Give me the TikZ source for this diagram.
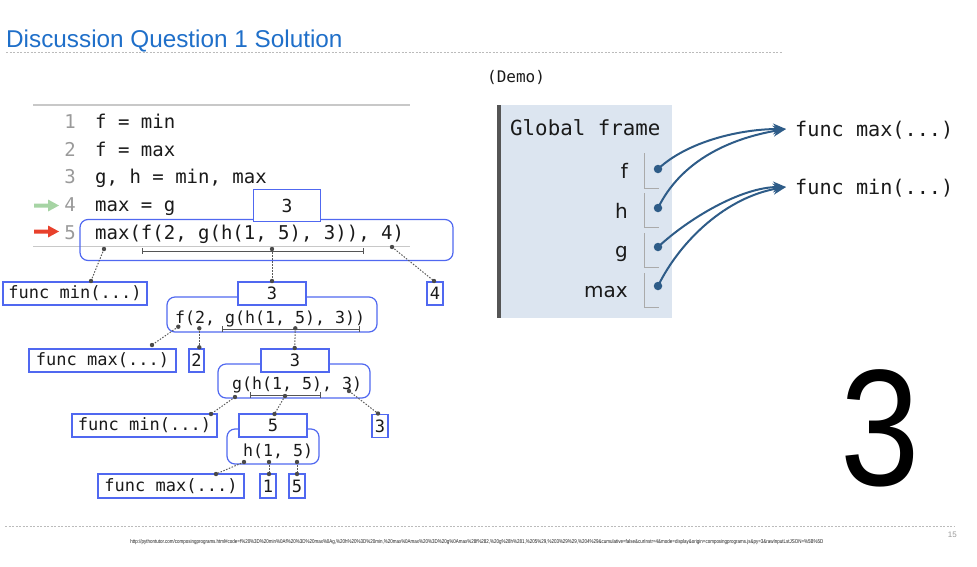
\documentclass[tikz,border=0pt]{standalone}
\usepackage{fontspec}
\usepackage{graphicx}
\usetikzlibrary{arrows.meta}
\newfontfamily\codefont{DejaVu Sans Mono}
\newfontfamily\varfont{DejaVu Sans}
\newfontfamily\titlefont{Liberation Sans}
\newcommand\fs[1]{\fontsize{#1}{#1}\selectfont}
\definecolor{titleblue}{HTML}{1F6FC9}
\definecolor{boxblue}{HTML}{5068F0}
\definecolor{ink}{HTML}{1A1A1A}
\definecolor{numgray}{HTML}{9A9A9A}
\definecolor{panelgray}{HTML}{C8C8C8}
\definecolor{rulegray}{HTML}{BBBBBB}
\definecolor{linkgray}{HTML}{5A5A5A}
\definecolor{dotgray}{HTML}{4A4A4A}
\definecolor{framebg}{HTML}{DCE5F0}
\definecolor{barcol}{HTML}{555555}
\definecolor{cellgray}{HTML}{AAAAAA}
\definecolor{ptrblue}{HTML}{2E5C88}
\definecolor{nextgreen}{HTML}{A6D4A4}
\definecolor{currred}{HTML}{E8412C}
\begin{document}
\begin{tikzpicture}[x=1pt,y=-1pt,
  valbox/.style={draw=boxblue, line width=1.2pt, fill=white, inner sep=0pt,
    font=\codefont\fs{17}, text=ink, minimum height=23pt},
  exprbox/.style={draw=boxblue, line width=1.2pt, rounded corners=8pt, inner sep=0pt},
  codetxt/.style={font=\codefont\fs{19}, text=ink, anchor=base west, inner sep=0pt},
  treetxt/.style={font=\codefont\fs{16.6}, text=ink, anchor=base west, inner sep=0pt},
  lineno/.style={font=\codefont\fs{19}, text=numgray, anchor=base, inner sep=0pt},
  link/.style={draw=linkgray, line width=1pt, dash pattern=on 1.5pt off 1.5pt},
  bracket/.style={draw=barcol, line width=1pt},
  ptr/.style={draw=ptrblue, line width=2pt, -{Stealth[length=13pt,width=11pt]}},
  cell/.style={draw=cellgray, line width=1pt},
  ptrdot/.style={circle, fill=ptrblue, minimum size=8.5pt, inner sep=0pt},
  varlbl/.style={font=\varfont\fs{20}, text=ink, anchor=base east, inner sep=0pt},
  heapfn/.style={font=\codefont\fs{20.2}, text=ink, anchor=base west, inner sep=0pt}]
\useasboundingbox (0,0) rectangle (977,566);

% heading and rules
\node[font=\titlefont\fs{24.3}, text=titleblue, anchor=base west, inner sep=0pt] (title) at (6,47) {Discussion Question 1 Solution};
\draw[rulegray, line width=0.8pt, dash pattern=on 2pt off 1.5pt] (6,52.5) -- (783,52.5);
\draw[rulegray, line width=0.8pt, dash pattern=on 2pt off 1.5pt] (5,526.5) -- (955,526.5);
\node[font=\titlefont\fs{8}, text=numgray, anchor=base east, inner sep=0pt] (pageno) at (957,537) {15};
\node[anchor=center, inner sep=0pt, text=ink] (link) at (477,542.5) {\resizebox{693pt}{4pt}{\titlefont http://pythontutor.com/composingprograms.html\#code=f\%20\%3D\%20min\%0Af\%20\%3D\%20max\%0Ag,\%20h\%20\%3D\%20min,\%20max\%0Amax\%20\%3D\%20g\%0Amax\%28f\%282,\%20g\%28h\%281,\%205\%29,\%203\%29\%29,\%204\%29\&cumulative=false\&curInstr=4\&mode=display\&origin=composingprograms.js\&py=3\&rawInputLstJSON=\%5B\%5D}};

% code listing
\draw[panelgray, line width=1.2pt] (33,105) -- (410,105);
\draw[panelgray, line width=1.2pt] (33,246.5) -- (410,246.5);
\foreach \n/\yy in {1/128,2/156,3/183.5,4/211.5,5/239}
  \node[lineno] (ln\n) at (70,\yy) {\n};
\node[codetxt] (code1) at (95,128) {f = min};
\node[codetxt] (code2) at (95,156) {f = max};
\node[codetxt] (code3) at (95,183.5) {g, h = min, max};
\node[codetxt] (code4) at (95,211.5) {max = g};
\fill[nextgreen] (34,203.5) -- (48,203.5) -- (48,199.5) -- (59,205.5) -- (48,211.5) -- (48,207.5) -- (34,207.5) -- cycle;
\fill[currred] (34,229.5) -- (48,229.5) -- (48,225.5) -- (59,231.5) -- (48,237.5) -- (48,233.5) -- (34,233.5) -- cycle;

% expression frames
\node[exprbox, minimum width=373pt, minimum height=41pt] (e1) at (266.5,240) {};
\node[exprbox, minimum width=210pt, minimum height=35pt] (e2) at (272,314.5) {};
\node[exprbox, minimum width=152pt, minimum height=34pt] (e3) at (294,381) {};
\node[exprbox, minimum width=92pt, minimum height=35pt] (e4) at (273,446.5) {};
\node[codetxt] (code5) at (95,239) {max(f(2, g(h(1, 5), 3)), 4)};

% values of the call expressions
\node[valbox, minimum width=67pt, minimum height=32.5pt, font=\codefont\fs{18}] (v1) at (287,205.5) {3};
\node[valbox, minimum width=68pt] (v2) at (272,293.5) {3};
\node[valbox, minimum width=68pt] (v3) at (295,360.5) {3};
\node[valbox, minimum width=68pt] (v4) at (273,425.5) {5};

% operator and operand values
\node[valbox, minimum width=144pt] (L1a) at (75,293.5) {func min(...)};
\node[valbox, minimum width=16pt] (L1c) at (435,293.5) {4};
\node[valbox, minimum width=147pt] (L2a) at (102.5,360.5) {func max(...)};
\node[valbox, minimum width=15pt] (L2b) at (196.5,360.5) {2};
\node[valbox, minimum width=145pt] (L3a) at (144.5,425.5) {func min(...)};
\node[valbox, minimum width=16pt] (L3c) at (380,426) {3};
\node[valbox, minimum width=146pt, minimum height=24pt] (L4a) at (171,486) {func max(...)};
\node[valbox, minimum width=16pt, minimum height=24pt] (L4b) at (268,486) {1};
\node[valbox, minimum width=16pt, minimum height=24pt] (L4c) at (297,486) {5};

% sub-expression texts
\node[treetxt] (x2) at (175,323) {f(2, g(h(1, 5), 3))};
\node[treetxt] (x3) at (232,389.3) {g(h(1, 5), 3)};
\node[treetxt] (x4) at (243,456.7) {h(1, 5)};

% operand brackets
\draw[bracket] (142,251) -- (363,251) (142,248) -- (142,254) (363,248) -- (363,254);
\draw[bracket] (222.5,329) -- (359,329) (222.5,326) -- (222.5,332) (359,326) -- (359,332);
\draw[bracket] (250,395) -- (320.5,395) (250,392) -- (250,398) (320.5,392) -- (320.5,398);

% evaluation links
\foreach \nm/\sx/\sy/\tx/\ty in {
  1a/104/249/91/281, 1b/272/249/272/281, 1c/392/247/434/281,
  2a/178.3/326.7/152/345, 2b/199.3/328.3/199.3/347.3, 2c/295.3/328.3/294.7/348,
  3a/235/397/211/414, 3b/285/396/274.5/414, 3c/349/391/378/413.5,
  4a/244/462/216/474, 4b/269/462/269/474, 4c/297/462/297/474} {
  \coordinate (s\nm) at (\sx,\sy);
  \coordinate (t\nm) at (\tx,\ty);
  \draw[link] (s\nm) -- (t\nm);
  \fill[dotgray] (s\nm) circle (2.2);
  \fill[dotgray] (t\nm) circle (2.2);
}

% environment diagram
\node[font=\codefont\fs{16}, text=ink, anchor=base west, inner sep=0pt] (demo) at (487,82) {(Demo)};
\fill[framebg] (497,105) rectangle (672,318);
\fill[barcol] (497,105) rectangle (500.5,318);
\node[font=\codefont\fs{20.8}, text=ink, anchor=base west, inner sep=0pt] (gframe) at (510,135) {Global frame};
\foreach \nm/\lab/\yb/\ct/\cb/\dy in {f/f/178/153/188/169, h/h/218/193/227.5/208, g/g/257/233/267/247, m/max/297/273/307/286} {
  \node[varlbl] (lab\nm) at (628,\yb) {\lab};
  \draw[cell] (644,\ct) -- (644,\cb) -- (659,\cb);
  \node[ptrdot] (v\nm) at (658,\dy) {};
}
\node[heapfn] (fmax) at (795,136) {func max(...)};
\node[heapfn] (fmin) at (795,194) {func min(...)};
\coordinate (tmax) at (786,129);
\coordinate (tmin) at (786,187);
\draw[ptr] (vf.center) .. controls +(30,-28) and +(-45,0) .. (tmax);
\draw[ptr] (vh.center) .. controls +(22,-45) and +(-60,10) .. (tmax);
\draw[ptr] (vg.center) .. controls +(30,-28) and +(-45,0) .. (tmin);
\draw[ptr] (vm.center) .. controls +(22,-45) and +(-60,10) .. (tmin);

% result
\node[font=\titlefont\fs{166}, text=black, anchor=base, inner sep=0pt] (answer) at (880,485) {\scalebox{0.86}[1]{3}};
\end{tikzpicture}
\end{document}
